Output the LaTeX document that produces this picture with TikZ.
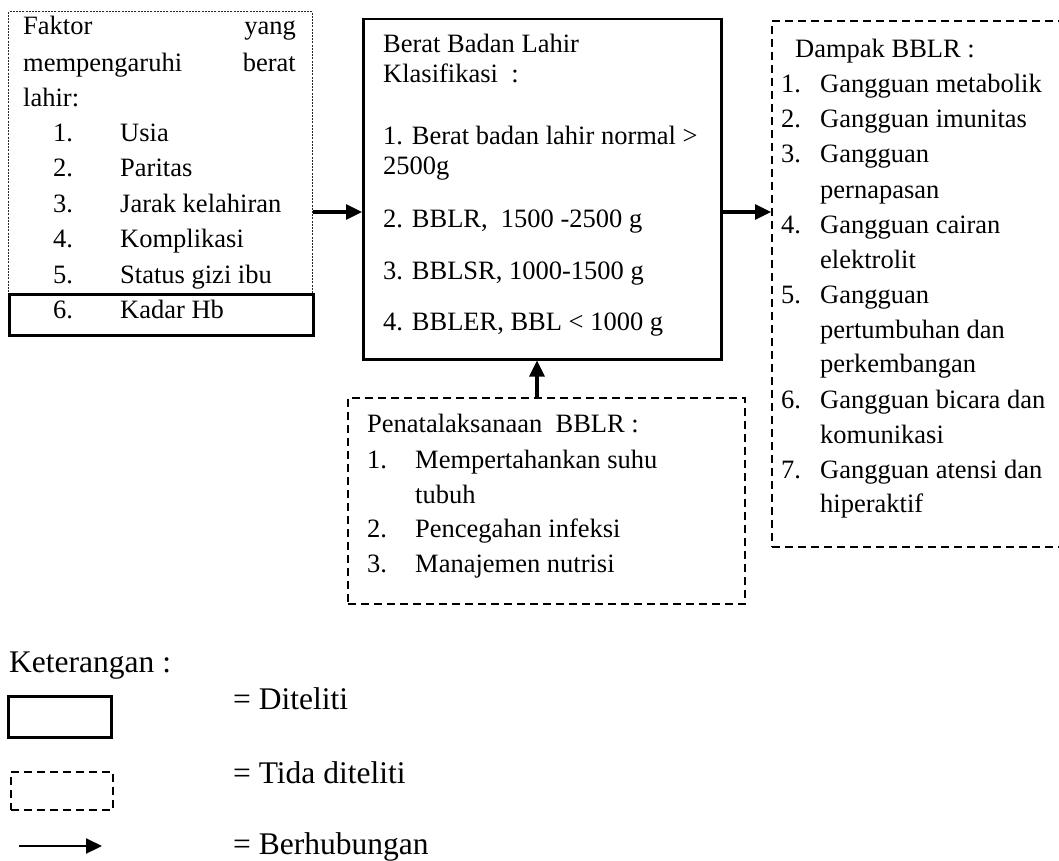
\documentclass[tikz,border=0pt]{standalone}
\usepackage{fontspec}
\setmainfont{Liberation Serif}
\usetikzlibrary{arrows.meta}
\tikzset{
  txt/.style={inner sep=0pt, anchor=base west, font=\fontsize{26.5pt}{30pt}\selectfont},
  txtr/.style={inner sep=0pt, anchor=base east, font=\fontsize{26.5pt}{30pt}\selectfont},
  lgtxt/.style={inner sep=0pt, anchor=base west, font=\fontsize{31.5pt}{36pt}\selectfont},
  solidbox/.style={draw, line width=2.5pt, inner sep=0pt, anchor=north west},
  dashbox/.style={draw, line width=2pt, dash pattern=on 8pt off 5pt, inner sep=0pt, anchor=north west},
  dotbox/.style={draw=black!85, line width=1.3pt, dash pattern=on 2pt off 1.2pt, inner sep=0pt, anchor=north west},
  arr/.style={line width=3.2pt, -{Triangle[length=16pt,width=15pt]}},
  arrlg/.style={line width=2.2pt, -{Triangle[length=16pt,width=15pt]}}
}
\begin{document}
\begin{tikzpicture}[x=1pt,y=-1pt]
\useasboundingbox (0,0) rectangle (1059,861);

% left box
\node[dotbox, minimum width=304pt, minimum height=323pt] (fak) at (8,11) {};
\node[solidbox, minimum width=304pt, minimum height=41pt] (hb) at (8,293) {};
\node[txt] (f1a) at (23,35) {Faktor};
\node[txtr] (f1b) at (296,35) {yang};
\node[txt] (f2a) at (23,72) {mempengaruhi};
\node[txtr] (f2b) at (296,72) {berat};
\node[txt] (f3) at (23,107) {lahir:};
\node[txt] (fn1) at (53,142) {1.};
\node[txt] (fi1) at (120,142) {Usia};
\node[txt] (fn2) at (53,177) {2.};
\node[txt] (fi2) at (120,177) {Paritas};
\node[txt] (fn3) at (53,212) {3.};
\node[txt] (fi3) at (120,212) {Jarak kelahiran};
\node[txt] (fn4) at (53,247) {4.};
\node[txt] (fi4) at (120,247) {Komplikasi};
\node[txt] (fn5) at (53,283) {5.};
\node[txt] (fi5) at (120,283) {Status gizi ibu};
\node[txt] (fn6) at (53,318) {6.};
\node[txt] (fi6) at (120,318) {Kadar Hb};

% middle box
\node[solidbox, minimum width=358pt, minimum height=340pt] (mid) at (362,18) {};
\node[txt] (m1) at (383,53) {Berat Badan Lahir};
\node[txt] (m2) at (383,83) {Klasifikasi\ \ :};
\node[txt] (m3) at (383,145) {1. Berat badan lahir normal >};
\node[txt] (m4) at (383,175) {2500g};
\node[txt] (m5) at (383,227) {2. BBLR,\ \ 1500 -2500 g};
\node[txt] (m6) at (383,279) {3. BBLSR, 1000-1500 g};
\node[txt] (m7) at (383,330) {4. BBLER, BBL < 1000 g};

% right box
\node[dashbox, minimum width=300pt, minimum height=526pt] (dam) at (771,20) {};
\node[txt] (d0) at (795,58) {Dampak BBLR :};
\node[txt] (dn1) at (781,93) {1.};
\node[txt] (di1) at (820,93) {Gangguan metabolik};
\node[txt] (dn2) at (781,128) {2.};
\node[txt] (di2) at (820,128) {Gangguan imunitas};
\node[txt] (dn3) at (781,163) {3.};
\node[txt] (di3) at (820,163) {Gangguan};
\node[txt] (di3b) at (820,198) {pernapasan};
\node[txt] (dn4) at (781,233) {4.};
\node[txt] (di4) at (820,233) {Gangguan cairan};
\node[txt] (di4b) at (820,268) {elektrolit};
\node[txt] (dn5) at (781,303) {5.};
\node[txt] (di5) at (820,303) {Gangguan};
\node[txt] (di5b) at (820,338) {pertumbuhan dan};
\node[txt] (di5c) at (820,372) {perkembangan};
\node[txt] (dn6) at (781,408) {6.};
\node[txt] (di6) at (820,408) {Gangguan bicara dan};
\node[txt] (di6b) at (820,443) {komunikasi};
\node[txt] (dn7) at (781,478) {7.};
\node[txt] (di7) at (820,478) {Gangguan atensi dan};
\node[txt] (di7b) at (820,512) {hiperaktif};

% bottom box
\node[dashbox, minimum width=397pt, minimum height=206pt] (pen) at (347,397) {};
\node[txt] (p0) at (367,432) {Penatalaksanaan\ \ BBLR :};
\node[txt] (pn1) at (367,468) {1.};
\node[txt] (pi1) at (415,468) {Mempertahankan suhu};
\node[txt] (pi1b) at (415,503) {tubuh};
\node[txt] (pn2) at (367,537) {2.};
\node[txt] (pi2) at (415,537) {Pencegahan infeksi};
\node[txt] (pn3) at (367,572) {3.};
\node[txt] (pi3) at (415,572) {Manajemen nutrisi};

% connectors
\draw[arr] (fak.east |- 0,212) -- (mid.west |- 0,212);
\draw[arr] (mid.east |- 0,212) -- (dam.west |- 0,212);
\draw[arr] (pen.north -| 537,0) -- (mid.south -| 537,0);

% legend
\node[lgtxt] (ket) at (9,672) {Keterangan :};
\node[solidbox, minimum width=103pt, minimum height=41pt] (lg1) at (7,695) {};
\node[dashbox, minimum width=102pt, minimum height=38pt] (lg2) at (10,771) {};
\coordinate (la) at (19,846);
\coordinate (lb) at (102,846);
\draw[arrlg] (la) -- (lb);
\node[lgtxt] (l1) at (233,709) {= Diteliti};
\node[lgtxt] (l2) at (233,783) {= Tida diteliti};
\node[lgtxt] (l3) at (233,854) {= Berhubungan};
\end{tikzpicture}
\end{document}
